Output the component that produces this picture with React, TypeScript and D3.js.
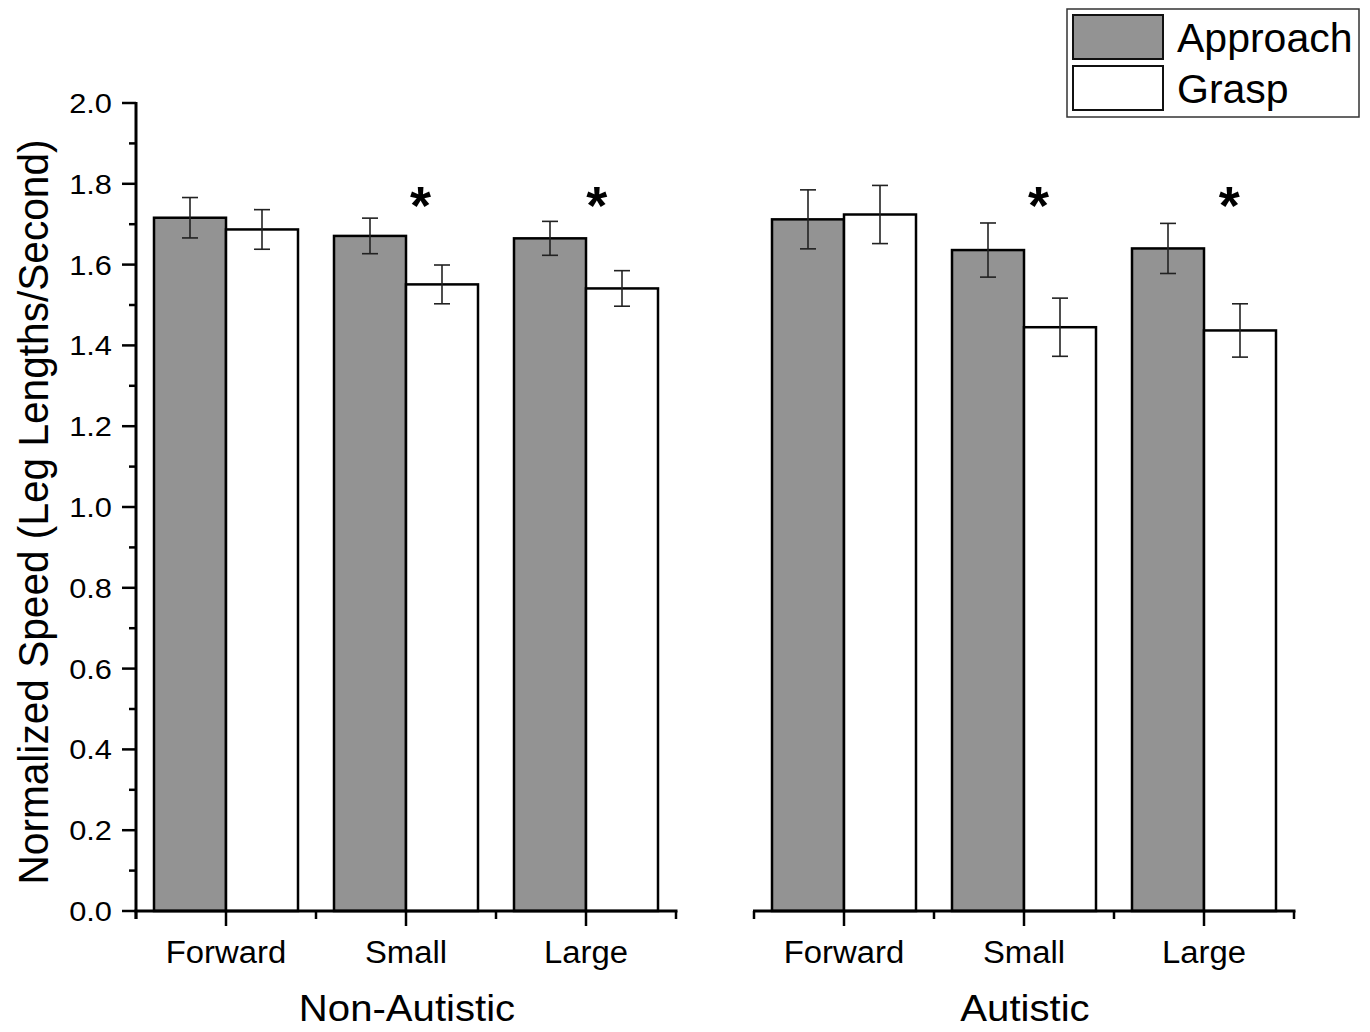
import React from "react";
import * as d3 from "d3";

const groups = ["Non-Autistic", "Autistic"];
const categories = ["Forward", "Small", "Large"];
const seriesNames = ["Approach", "Grasp"];
const seriesFill = ["#939393", "#ffffff"];

// values [group][category]
const approachMeans = [
  [1.716, 1.671, 1.665],
  [1.712, 1.636, 1.640],
];
const approachErr = [
  [0.050, 0.044, 0.042],
  [0.073, 0.067, 0.062],
];
const graspMeans = [
  [1.687, 1.551, 1.541],
  [1.724, 1.445, 1.437],
];
const graspErr = [
  [0.049, 0.048, 0.044],
  [0.072, 0.072, 0.066],
];
// significance markers: [groupIndex, categoryIndex, offset in band units]
const sigMarks: [number, number, number][] = [
  [0, 1, 0.08],
  [0, 2, 0.06],
  [1, 1, 0.08],
  [1, 2, 0.14],
];
const yTicks = [0, 0.2, 0.4, 0.6, 0.8, 1.0, 1.2, 1.4, 1.6, 1.8, 2.0];
const yMinorTicks = [0.1, 0.3, 0.5, 0.7, 0.9, 1.1, 1.3, 1.5, 1.7, 1.9];

const FONT = "'Liberation Sans', Arial, Helvetica, sans-serif";

export default function App() {
  const W = 1370;
  const H = 1032;
  const y = d3.scaleLinear().domain([0, 2]).range([911, 103]);
  const panelRanges: [number, number][] = [
    [136, 676],
    [754, 1294],
  ];
  const xScales = panelRanges.map((r) =>
    d3.scaleBand<string>().domain(categories).range(r).padding(0)
  );
  const bw = xScales[0].bandwidth();
  const inner = d3
    .scaleBand<string>()
    .domain(seriesNames)
    .range([bw * 0.1, bw * 0.9])
    .padding(0);
  const meansBySeries = [approachMeans, graspMeans];
  const errBySeries = [approachErr, graspErr];
  const y0 = y(0);

  return (
    <svg
      width={W}
      height={H}
      style={{ display: "block", position: "absolute", left: 0, top: 0 }}
      fontFamily={FONT}
    >
      <rect width={W} height={H} fill="#fff" />
      {/* bars */}
      {groups.map((g, gi) =>
        categories.map((c, ci) =>
          seriesNames.map((s, si) => {
            const x0 = xScales[gi](c)! + inner(s)!;
            const v = meansBySeries[si][gi][ci];
            return (
              <rect
                key={`${gi}-${ci}-${si}`}
                x={x0}
                y={y(v)}
                width={inner.bandwidth()}
                height={y0 - y(v)}
                fill={seriesFill[si]}
                stroke="#000"
                strokeWidth={2.5}
              />
            );
          })
        )
      )}
      {/* error bars */}
      {groups.map((g, gi) =>
        categories.map((c, ci) =>
          seriesNames.map((s, si) => {
            const cx = xScales[gi](c)! + inner(s)! + inner.bandwidth() / 2;
            const v = meansBySeries[si][gi][ci];
            const e = errBySeries[si][gi][ci];
            const hw = 8;
            return (
              <g key={`e${gi}-${ci}-${si}`} stroke="#222" strokeWidth={1.6}>
                <line x1={cx} x2={cx} y1={y(v + e)} y2={y(v - e)} />
                <line x1={cx - hw} x2={cx + hw} y1={y(v + e)} y2={y(v + e)} />
                <line x1={cx - hw} x2={cx + hw} y1={y(v - e)} y2={y(v - e)} />
              </g>
            );
          })
        )
      )}
      {/* significance */}
      {sigMarks.map(([gi, ci, off], i) => {
        const cx = xScales[gi](categories[ci])! + bw / 2 + off * bw;
        return (
          <text
            key={`s${i}`}
            x={cx}
            y={y(1.685) - 6}
            textAnchor="middle"
            fontSize={54}
            fontWeight="bold"
          >
            *
          </text>
        );
      })}
      {/* y axis */}
      <line x1={136} x2={136} y1={y(2) - 1} y2={y0 + 8} stroke="#000" strokeWidth={3} />
      {yTicks.map((t) => (
        <g key={`yt${t}`}>
          <line x1={122} x2={136} y1={y(t)} y2={y(t)} stroke="#000" strokeWidth={2.5} />
          <text
            transform={`translate(112,${y(t) + 10}) scale(1.12,1)`}
            textAnchor="end"
            fontSize={27.5}
          >
            {t.toFixed(1)}
          </text>
        </g>
      ))}
      {yMinorTicks.map((t) => (
        <line key={`ym${t}`} x1={129} x2={136} y1={y(t)} y2={y(t)} stroke="#000" strokeWidth={2.5} />
      ))}
      <text
        transform={`translate(48,512) rotate(-90)`}
        textAnchor="middle"
        fontSize={42}
        textLength={745}
        lengthAdjust="spacingAndGlyphs"
      >
        Normalized Speed (Leg Lengths/Second)
      </text>
      {/* x axes */}
      {groups.map((g, gi) => {
        const xs = xScales[gi];
        const [r0, r1] = xs.range();
        const bounds = [r0, ...categories.map((c) => xs(c)! + bw)];
        return (
          <g key={`xa${gi}`}>
            <line x1={r0 - (gi === 0 ? 1.5 : 1)} x2={r1 + 1.5} y1={y0} y2={y0} stroke="#000" strokeWidth={3} />
            {bounds.map((b, bi) => (
              <line key={`mb${bi}`} x1={b} x2={b} y1={y0} y2={y0 + 8} stroke="#000" strokeWidth={2.5} />
            ))}
            {categories.map((c) => {
              const cx = xs(c)! + bw / 2;
              return (
                <g key={`xt${c}`}>
                  <line x1={cx} x2={cx} y1={y0} y2={y0 + 15} stroke="#000" strokeWidth={2.5} />
                  <text
                    transform={`translate(${cx},963) scale(1.06,1)`}
                    textAnchor="middle"
                    fontSize={31}
                  >
                    {c}
                  </text>
                </g>
              );
            })}
            <text
              transform={`translate(${(r0 + r1) / 2 + 1},1021) scale(1.07,1)`}
              textAnchor="middle"
              fontSize={37.5}
            >
              {g}
            </text>
          </g>
        );
      })}
      {/* legend */}
      <g>
        <rect x={1067} y={9} width={292} height={108} fill="#fff" stroke="#333" strokeWidth={1.5} />
        {seriesNames.map((s, si) => (
          <g key={`lg${s}`}>
            <rect
              x={1073}
              y={15 + si * 51}
              width={90}
              height={44}
              fill={seriesFill[si]}
              stroke="#111"
              strokeWidth={2}
            />
            <text x={1177} y={52 + si * 51} fontSize={41}>
              {s}
            </text>
          </g>
        ))}
      </g>
    </svg>
  );
}
